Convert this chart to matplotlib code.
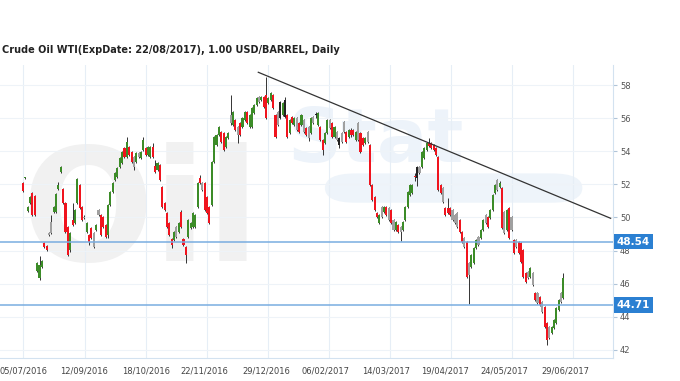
import numpy as np
import matplotlib
matplotlib.use("Agg")
import matplotlib.pyplot as plt
from matplotlib.patches import FancyBboxPatch
import matplotlib.transforms as mtransforms

title = "Crude Oil WTI(ExpDate: 22/08/2017), 1.00 USD/BARREL, Daily"

# daily candles (trading-day index)
opens = [52.08, 52.38, 50.39, 50.87, 51.48, 51.30, 46.77, 46.35, 47.01, 48.46,
         48.28, 49.06, 49.73, 50.33, 50.33, 51.72, 52.75, 51.72, 50.87, 49.42,
         48.04, 49.85, 49.67, 50.87, 51.96, 50.63, 50.05, 49.12, 48.94, 49.36,
         49.06, 49.24, 50.45, 50.15, 50.03, 49.55, 48.94, 50.75, 51.54, 52.26,
         52.44, 53.05, 53.29, 54.20, 53.65, 54.26, 53.95, 53.65, 53.35, 53.89,
         53.59, 54.07, 54.20, 53.77, 53.65, 54.26, 53.11, 52.87, 53.17, 51.84,
         50.87, 50.27, 49.67, 48.70, 48.64, 49.42, 49.12, 50.33, 48.70, 48.22,
         48.82, 49.36, 49.42, 49.42, 50.63, 52.38, 52.08, 52.08, 51.24, 50.63,
         50.75, 53.35, 54.38, 54.98, 55.16, 55.10, 54.26, 54.80, 56.19, 55.58,
         55.89, 55.46, 55.71, 55.46, 55.89, 56.37, 55.46, 55.46, 56.31, 56.79,
         57.28, 57.10, 57.28, 57.40, 56.91, 57.09, 57.40, 56.19, 56.37, 56.01,
         56.19, 57.09, 56.19, 55.10, 56.07, 55.58, 56.01, 55.71, 55.58, 55.89,
         55.40, 55.46, 55.10, 56.07, 56.20, 55.58, 55.46, 54.68, 54.50, 55.10,
         55.89, 55.71, 54.86, 55.16, 54.80, 55.10, 55.77, 55.16, 54.86, 55.28,
         55.28, 54.68, 55.71, 55.10, 54.80, 54.50, 55.16, 54.38, 51.96, 51.24,
         50.27, 49.67, 50.63, 50.33, 50.63, 50.57, 50.45, 49.85, 49.24, 49.55,
         49.42, 49.24, 49.85, 50.63, 51.36, 51.96, 52.46, 53.05, 52.69, 53.05,
         53.59, 54.07, 54.50, 54.50, 54.38, 54.20, 53.65, 51.96, 51.78, 50.57,
         50.57, 50.57, 50.45, 50.15, 50.27, 49.85, 49.12, 48.76, 48.52, 47.25,
         47.01, 47.25, 48.16, 48.82, 48.76, 49.24, 50.15, 50.03, 49.97, 50.45,
         51.48, 52.26, 51.84, 51.78, 50.33, 49.24, 50.57, 50.03, 48.64, 48.64,
         48.52, 48.46, 48.04, 46.65, 46.71, 46.41, 46.65, 45.44, 45.44, 45.20,
         44.90, 44.59, 43.63, 43.39, 43.02, 43.33, 43.63, 44.41, 45.44, 45.14]
highs = [52.14, 52.47, 50.69, 51.30, 51.54, 51.36, 47.31, 47.67, 47.43, 48.52,
         48.34, 49.12, 50.15, 50.69, 51.48, 52.14, 53.11, 51.78, 50.93, 49.48,
         49.12, 50.87, 50.51, 52.38, 52.02, 50.69, 50.15, 49.73, 49.00, 49.42,
         49.12, 49.61, 50.51, 50.21, 50.09, 49.61, 50.81, 51.60, 52.14, 52.75,
         53.05, 53.65, 54.01, 54.26, 54.86, 54.32, 54.01, 53.71, 53.95, 53.95,
         54.01, 54.86, 54.26, 54.32, 54.32, 54.50, 53.47, 53.35, 53.23, 51.90,
         50.93, 50.33, 49.73, 48.76, 49.18, 49.48, 49.73, 50.45, 48.76, 48.28,
         49.91, 49.73, 50.33, 50.21, 52.14, 52.57, 52.14, 52.14, 51.30, 50.69,
         53.41, 54.92, 55.04, 55.52, 55.22, 55.16, 54.92, 55.16, 57.40, 56.43,
         55.95, 55.52, 55.77, 56.07, 56.43, 56.43, 56.25, 56.67, 56.85, 57.27,
         57.34, 57.34, 57.34, 58.48, 57.27, 57.58, 57.46, 56.25, 56.43, 57.03,
         56.97, 57.28, 56.25, 55.95, 56.13, 56.07, 56.07, 55.77, 56.25, 55.95,
         55.46, 55.52, 56.07, 56.13, 56.37, 56.37, 55.52, 54.74, 55.16, 55.95,
         55.95, 55.77, 55.52, 55.22, 54.86, 55.16, 55.83, 55.22, 55.34, 55.40,
         55.34, 55.22, 55.77, 55.16, 54.86, 54.86, 55.22, 54.44, 52.02, 51.30,
         50.33, 50.21, 50.69, 50.69, 50.69, 50.63, 50.51, 49.91, 49.79, 49.61,
         49.48, 49.79, 50.69, 51.60, 52.02, 52.02, 52.69, 53.11, 53.11, 54.01,
         54.26, 54.56, 54.80, 54.56, 54.44, 54.26, 53.71, 52.02, 51.84, 50.63,
         51.18, 50.63, 50.51, 50.21, 50.33, 49.91, 49.18, 48.82, 48.58, 47.31,
         47.79, 48.22, 48.70, 48.88, 49.30, 49.91, 50.21, 50.09, 50.51, 51.42,
         52.02, 52.32, 52.20, 51.84, 50.39, 50.51, 50.63, 50.09, 48.70, 48.70,
         48.58, 48.52, 48.10, 46.71, 46.77, 47.01, 46.71, 45.50, 45.50, 45.26,
         44.96, 44.65, 43.69, 43.45, 43.45, 43.87, 44.59, 45.08, 45.50, 46.65]
lows = [51.54, 52.35, 50.33, 50.81, 50.09, 50.09, 46.71, 46.22, 46.95, 48.16,
        47.98, 48.88, 49.00, 50.27, 50.27, 51.66, 52.69, 50.81, 49.06, 47.67,
        47.90, 49.49, 49.61, 50.81, 50.51, 49.79, 49.90, 49.06, 48.34, 48.70,
        48.16, 49.18, 50.09, 48.88, 49.36, 48.76, 48.76, 50.69, 51.48, 52.20,
        52.38, 52.99, 53.23, 53.59, 53.59, 53.71, 53.29, 52.87, 53.29, 53.59,
        53.53, 54.01, 53.71, 53.71, 53.59, 53.59, 52.69, 52.81, 52.20, 50.57,
        50.39, 49.36, 48.88, 48.16, 48.58, 48.76, 49.06, 49.36, 48.28, 47.25,
        48.76, 49.30, 49.36, 49.36, 50.57, 52.02, 51.60, 50.39, 50.21, 49.61,
        50.69, 53.29, 54.32, 54.92, 54.50, 54.01, 54.20, 54.74, 55.58, 55.52,
        55.22, 54.50, 54.92, 55.40, 55.83, 55.65, 55.40, 55.40, 56.25, 56.73,
        56.91, 57.04, 56.61, 55.95, 56.85, 57.03, 56.55, 54.80, 55.52, 55.95,
        56.13, 56.01, 54.80, 55.04, 55.65, 55.52, 55.22, 55.10, 55.52, 55.10,
        54.92, 54.62, 55.04, 55.65, 56.01, 55.52, 54.62, 53.77, 54.44, 55.04,
        55.34, 54.80, 54.80, 54.62, 54.20, 54.50, 55.10, 54.50, 54.80, 54.86,
        54.92, 54.62, 54.62, 53.89, 54.32, 54.44, 54.50, 51.90, 51.00, 50.39,
        49.97, 49.61, 49.97, 50.27, 50.09, 49.79, 49.61, 49.18, 49.18, 49.06,
        48.55, 49.18, 49.79, 50.57, 51.30, 51.42, 52.20, 51.90, 52.63, 52.99,
        53.53, 54.01, 54.26, 54.14, 54.01, 53.71, 51.60, 51.42, 50.87, 50.09,
        50.21, 50.09, 49.79, 49.61, 49.36, 49.06, 48.46, 48.16, 46.35, 44.80,
        46.95, 47.19, 48.10, 48.28, 48.70, 49.18, 49.61, 49.36, 49.91, 50.39,
        51.42, 51.60, 51.78, 49.30, 49.00, 49.18, 48.70, 49.18, 47.80, 48.16,
        47.80, 47.25, 46.35, 46.04, 46.29, 46.35, 45.86, 44.96, 44.78, 44.65,
        44.23, 43.33, 42.30, 42.66, 42.96, 43.27, 43.57, 44.35, 44.84, 45.08]
closes = [51.60, 52.44, 50.63, 51.24, 50.15, 50.15, 47.25, 47.13, 47.37, 48.22,
          48.04, 48.94, 49.06, 50.63, 51.42, 51.96, 53.05, 50.87, 49.12, 47.73,
          49.06, 49.55, 50.45, 52.32, 50.57, 49.85, 49.97, 49.67, 48.52, 48.76,
          48.22, 49.55, 50.15, 48.94, 49.42, 48.82, 50.75, 51.54, 52.08, 52.69,
          52.99, 53.59, 53.95, 53.65, 54.56, 53.77, 53.35, 53.05, 53.89, 53.65,
          53.95, 54.68, 53.77, 54.26, 54.26, 53.65, 52.75, 53.29, 52.26, 50.63,
          50.45, 49.42, 48.94, 48.34, 49.12, 48.82, 49.67, 49.42, 48.34, 47.73,
          49.85, 49.67, 50.27, 50.15, 52.08, 52.08, 51.66, 50.45, 50.27, 49.67,
          53.35, 54.86, 54.98, 55.46, 54.56, 54.07, 54.86, 55.10, 55.71, 56.37,
          55.28, 54.98, 54.98, 56.01, 56.37, 55.71, 56.19, 56.61, 56.79, 57.21,
          56.97, 57.28, 56.67, 56.01, 57.21, 57.52, 56.61, 54.86, 55.58, 56.97,
          56.91, 56.07, 54.86, 55.89, 55.71, 56.01, 55.28, 55.16, 56.19, 55.16,
          54.98, 54.80, 56.01, 55.71, 56.19, 56.31, 54.68, 54.07, 55.10, 55.89,
          55.40, 54.86, 55.46, 54.68, 54.38, 54.56, 55.16, 54.56, 55.28, 54.98,
          54.98, 55.16, 54.68, 53.95, 54.38, 54.80, 54.56, 51.96, 51.06, 50.45,
          50.03, 50.15, 50.03, 50.63, 50.15, 49.85, 49.67, 49.24, 49.73, 49.12,
          49.12, 49.73, 50.63, 51.54, 51.96, 51.48, 52.42, 52.38, 53.05, 53.95,
          54.20, 54.50, 54.32, 54.20, 54.07, 53.77, 51.66, 51.48, 50.93, 50.15,
          50.27, 50.15, 49.85, 49.67, 49.42, 49.12, 48.52, 48.22, 46.41, 46.53,
          47.73, 48.16, 48.64, 48.34, 49.24, 49.85, 49.67, 49.42, 50.45, 51.36,
          51.96, 51.66, 52.08, 49.36, 49.06, 50.45, 48.76, 49.24, 47.86, 48.22,
          47.86, 47.31, 46.41, 46.10, 46.35, 46.95, 45.92, 45.02, 44.84, 44.71,
          44.29, 43.39, 42.60, 42.72, 43.39, 43.81, 44.53, 45.02, 44.90, 46.35]
# r = down, g = up, n = grey, d = doji
kinds = ("rgggrrgggr" "rnnggggrrr" "grggrrngrr" "ngnrrrgggg" "gggrgrrngn"
         "ggrggrrgrr" "rrrrgngrrr" "gggggrnrrr" "ggggrrggng" "rnrggrgggg"
         "ngrrggrrnd" "gdrgrgnrgn" "rngndgrrgg" "nrgndnnrgr" "rgnrrgnrrr"
         "rgngrnrngr" "ngggggrdng" "ggrrrrrrnr" "rrnnnrrnrn" "gggnggnrgg"
         "gngrngrnrn" "rrrrngnrnr" "nrrnggggng")

date_ticks = [0, 26, 52, 77, 103, 128, 154, 179, 204, 230]
date_labels = ["05/07/2016", "12/09/2016", "18/10/2016", "22/11/2016", "29/12/2016",
               "06/02/2017", "14/03/2017", "19/04/2017", "24/05/2017", "29/06/2017"]
grid_days = [0, 26.3, 52.1, 78, 103.8, 129.7, 155.5, 181.4, 207.2, 233.1]
price_ticks = [42, 44, 46, 48, 50, 52, 54, 56, 58]

levels = [48.54, 44.71]
trend_x = [99.7, 249.0]
trend_y = [58.77, 49.95]

kind_color = {"r": "#f0141e", "g": "#3c8c28", "n": "#a0a0a0", "d": "#222222"}

fig = plt.figure(figsize=(6.8, 3.81), dpi=100)
fig.patch.set_facecolor("white")
ax = fig.add_axes([0, 23 / 381, 613 / 680, 293 / 381])
ax.set_xlim(-9.75, 250.0)
ax.set_ylim(41.51, 59.21)

# faint logo watermark
ax.text(0.035, 0.33, "Oil", transform=ax.transAxes, fontsize=112, fontweight="bold",
        color="#f1f1f1", zorder=0, ha="left", va="baseline")
ax.text(0.47, 0.67, "Stat", transform=ax.transAxes, fontsize=54, fontweight="bold",
        color="#edf3fa", zorder=0, ha="left", va="baseline")
bar = FancyBboxPatch((0.53, 0.53), 0.42, 0.10, boxstyle="round,pad=0,rounding_size=0.05",
                     transform=ax.transAxes, facecolor="#eef4fa", edgecolor="none", zorder=0)
ax.add_patch(bar)

for g in grid_days:
    ax.axvline(g, color="#e6eef6", lw=0.8, zorder=1)
for p in price_ticks:
    ax.axhline(p, color="#eef3f8", lw=0.8, zorder=1)

x = np.arange(len(opens))
o = np.array(opens)
c = np.array(closes)
cols = [kind_color[k] for k in kinds]
bottoms = np.minimum(o, c)
heights = np.maximum(np.abs(c - o), 0.06)
ax.vlines(x, lows, highs, color="#333333", lw=0.7, zorder=2)
ax.bar(x, heights, bottom=bottoms, width=0.88, color=cols, linewidth=0, zorder=3)

for lv in levels:
    ax.axhline(lv, color="#79ade0", lw=1.1, zorder=4)
ax.plot(trend_x, trend_y, color="#333333", lw=0.9, zorder=5)

trans = mtransforms.blended_transform_factory(ax.transAxes, ax.transData)
for lv in levels:
    ax.text(1.006, lv, f"{lv:.2f}", transform=trans, ha="left", va="center",
            fontsize=7.5, fontweight="bold", color="white", zorder=10, clip_on=False,
            bbox=dict(boxstyle="square,pad=0.25", facecolor="#2b80d2", edgecolor="none"))

ax.yaxis.tick_right()
ax.set_yticks(price_ticks)
ax.set_yticklabels([str(p) for p in price_ticks])
ax.tick_params(axis="y", length=3, color="#b0c4d8", labelsize=6, labelcolor="#555555", pad=2)
ax.set_xticks(date_ticks)
ax.set_xticklabels(date_labels)
ax.tick_params(axis="x", length=0, labelsize=6, labelcolor="#444444", pad=6)

for s in ["left", "top"]:
    ax.spines[s].set_visible(False)
for s in ["right", "bottom"]:
    ax.spines[s].set_color("#d3e2f0")
    ax.spines[s].set_linewidth(0.8)
ax.patch.set_alpha(0)

fig.text(2 / 680, 1 - 50 / 381, title, fontsize=7, fontweight="bold", color="#222222",
         ha="left", va="center")

fig.savefig("out.png", dpi=100)
